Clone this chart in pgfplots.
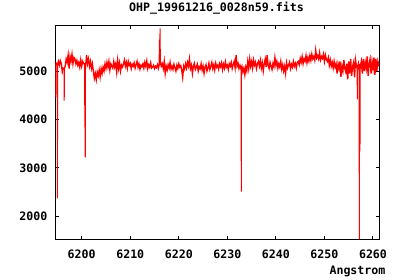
\documentclass[border=0pt]{standalone}
\usepackage{pgfplots}
\usepackage{pgfplotstable}
\pgfplotsset{compat=1.18}
\usepackage{fontspec}
\newfontfamily\gfont{DejaVu Sans Mono}
\newcommand\gf{\gfont\bfseries\fontsize{11.6bp}{13bp}\selectfont}
% continuum flux values, x = 6194.6 + 0.2*index (Angstrom)
\pgfplotstableread[row sep=\\]{
y\\
5180\\ 5150\\ 5120\\ 5200\\ 5120\\ 5210\\ 5150\\ 4980\\ 5060\\ 5050\\
5100\\ 5250\\ 5180\\ 5330\\ 5050\\ 5300\\ 5200\\ 5350\\ 5150\\ 5280\\
5250\\ 5150\\ 5220\\ 5120\\ 5180\\ 5080\\ 5230\\ 5100\\ 5200\\ 5150\\
5150\\ 5100\\ 5330\\ 5150\\ 5250\\ 5100\\ 5200\\ 5050\\ 5150\\ 5000\\
4850\\ 4950\\ 4820\\ 4980\\ 4900\\ 5020\\ 4880\\ 5050\\ 4950\\ 5080\\
5000\\ 5150\\ 5050\\ 5180\\ 5080\\ 5200\\ 5020\\ 5150\\ 5100\\ 5060\\
5200\\ 5080\\ 5150\\ 4980\\ 5220\\ 5050\\ 5170\\ 5000\\ 5120\\ 5080\\
5150\\ 5230\\ 5100\\ 5180\\ 5060\\ 5200\\ 5120\\ 5160\\ 5050\\ 5140\\
5100\\ 5170\\ 5060\\ 5130\\ 5200\\ 5080\\ 5150\\ 5040\\ 5120\\ 5090\\
5150\\ 5060\\ 5180\\ 5100\\ 5210\\ 5050\\ 5130\\ 5080\\ 5170\\ 5060\\
5080\\ 5120\\ 5050\\ 5100\\ 5070\\ 5130\\ 5060\\ 5150\\ 5200\\ 5100\\
5150\\ 5050\\ 5200\\ 4950\\ 5100\\ 5020\\ 5130\\ 5060\\ 5180\\ 5040\\
5100\\ 5030\\ 5140\\ 5070\\ 5000\\ 5120\\ 5050\\ 5150\\ 5080\\ 5110\\
5020\\ 4870\\ 5100\\ 5040\\ 5150\\ 5060\\ 5180\\ 5100\\ 5250\\ 5050\\
5120\\ 4950\\ 5100\\ 5160\\ 5030\\ 5080\\ 5140\\ 5000\\ 5090\\ 5050\\
5150\\ 5020\\ 5100\\ 4950\\ 5080\\ 5130\\ 5000\\ 5060\\ 5160\\ 5030\\
5100\\ 5180\\ 5050\\ 5130\\ 5020\\ 5160\\ 5080\\ 5120\\ 5040\\ 5150\\
5090\\ 5170\\ 5030\\ 5140\\ 5060\\ 5190\\ 5080\\ 5120\\ 5030\\ 5150\\
5100\\ 5180\\ 5050\\ 5130\\ 5200\\ 5070\\ 5330\\ 5100\\ 5160\\ 5050\\
5120\\ 5050\\ 5100\\ 4980\\ 5060\\ 4920\\ 5080\\ 5000\\ 5200\\ 5050\\
5250\\ 5100\\ 5200\\ 5060\\ 5230\\ 5120\\ 5180\\ 5050\\ 5150\\ 5200\\
5100\\ 5220\\ 5060\\ 5170\\ 5000\\ 5150\\ 5250\\ 5080\\ 5330\\ 5120\\
5050\\ 5180\\ 5100\\ 5030\\ 5160\\ 5090\\ 5280\\ 5120\\ 5200\\ 5060\\
5150\\ 5080\\ 5200\\ 5040\\ 5130\\ 5000\\ 5100\\ 4950\\ 5170\\ 5060\\
5120\\ 5180\\ 5050\\ 5140\\ 5080\\ 5200\\ 5100\\ 5160\\ 5060\\ 5180\\
5200\\ 5130\\ 5260\\ 5180\\ 5300\\ 5150\\ 5250\\ 5200\\ 5320\\ 5170\\
5280\\ 5200\\ 5320\\ 5220\\ 5350\\ 5250\\ 5300\\ 5220\\ 5430\\ 5270\\
5320\\ 5250\\ 5380\\ 5230\\ 5300\\ 5260\\ 5350\\ 5200\\ 5330\\ 5240\\
5200\\ 5280\\ 5120\\ 5230\\ 5100\\ 5180\\ 5060\\ 5200\\ 5080\\ 5150\\
4950\\ 5150\\ 5050\\ 5200\\ 4880\\ 5100\\ 5000\\ 5230\\ 5050\\ 4980\\
5150\\ 4830\\ 5200\\ 4950\\ 5250\\ 4900\\ 5100\\ 5180\\ 4870\\ 5230\\
5100\\ 5050\\ 5150\\ 5000\\ 5100\\ 5200\\ 4950\\ 5250\\ 5000\\ 5180\\
5050\\ 5300\\ 4900\\ 5150\\ 5250\\ 4950\\ 5200\\ 5050\\ 5280\\ 4920\\
5250\\ 5000\\ 5200\\ 5100\\
}\spec
\begin{document}
\begin{tikzpicture}[x=1bp,y=1bp]
\path[use as bounding box] (0,0) rectangle (400,280);
\begin{axis}[
  at={(55.3bp,40bp)}, anchor=south west,
  scale only axis, width=324bp, height=214.7bp,
  xmin=6194.56, xmax=6261.3, ymin=1510, ymax=5945,
  xtick={6200,6210,6220,6230,6240,6250,6260},
  ytick={2000,3000,4000,5000},
  tick align=inside, major tick length=3.5bp,
  axis line style={line width=1bp, black},
  every tick/.style={line width=1bp, black},
  /pgf/number format/assume math mode=true,
  /pgf/number format/.cd, use comma=false, 1000 sep={}, /pgfplots/.cd,
  tick label style={font=\gf, inner sep=0pt},
  yticklabel style={anchor=east, xshift=-7.8bp},
  xticklabel style={anchor=north, yshift=-10bp},
  title={OHP\_19961216\_0028n59.fits},
  title style={font=\gf, at={(axis description cs:0.5,1)}, anchor=base, inner sep=0pt, yshift=7.8bp, xshift=-0.8bp},
  xlabel={Angstrom},
  xlabel style={font=\gf, at={(axis description cs:1,0)}, anchor=base east, inner sep=0pt, yshift=-34.5bp, xshift=6.3bp},
  clip=true,
]
\addplot[color={rgb,255:red,255;green,0;blue,0}, line width=1.35bp, line join=miter] table[x expr={6194.6+0.2*\coordindex}, y=y] {\spec};
% narrow absorption / emission features
\addplot[color={rgb,255:red,255;green,0;blue,0}, line width=1bp] coordinates {(6194.66,5150)(6194.70,4450)(6194.74,5150)};
\addplot[color={rgb,255:red,255;green,0;blue,0}, line width=1bp] coordinates {(6194.97,5150)(6195.00,2370)(6195.03,5120)};
\addplot[color={rgb,255:red,255;green,0;blue,0}, line width=1bp] coordinates {(6196.37,5060)(6196.40,4390)(6196.43,5050)};
\addplot[color={rgb,255:red,255;green,0;blue,0}, line width=1bp] coordinates {(6200.60,5150)(6200.64,3850)(6200.70,3850)(6200.73,3215)(6200.77,5100)};
\addplot[color={rgb,255:red,255;green,0;blue,0}, line width=1bp] coordinates {(6215.95,5100)(6216.00,5640)(6216.10,5640)(6216.15,5880)(6216.20,5120)};
\addplot[color={rgb,255:red,255;green,0;blue,0}, line width=1bp] coordinates {(6232.84,5100)(6232.87,2510)(6232.90,5050)};
\addplot[color={rgb,255:red,255;green,0;blue,0}, line width=1bp] coordinates {(6256.74,5100)(6256.77,4415)(6256.80,5050)};
\addplot[color={rgb,255:red,255;green,0;blue,0}, line width=1bp] coordinates {(6257.15,5150)(6257.18,1530)(6257.22,3350)(6257.32,3350)(6257.36,5150)};
\end{axis}
\end{tikzpicture}
\end{document}
